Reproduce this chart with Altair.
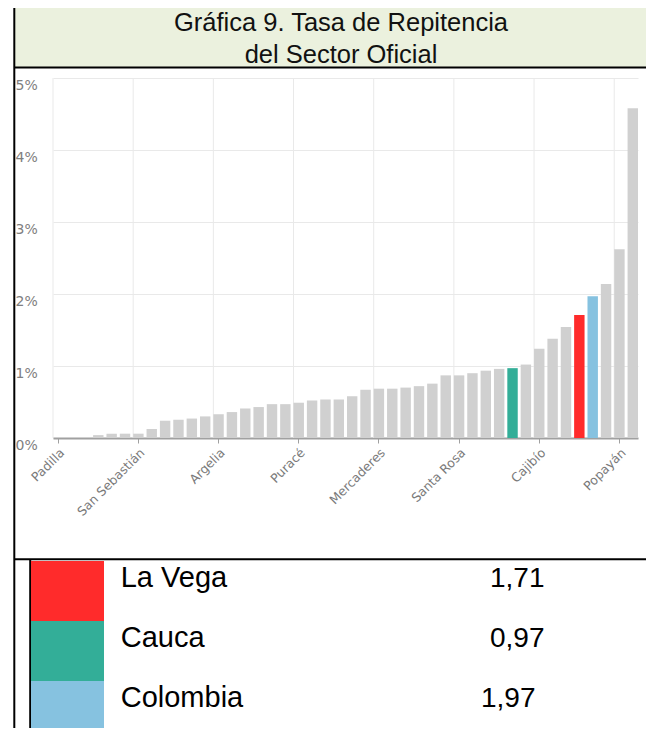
import altair as alt
import pandas as pd

# ---- data -----------------------------------------------------------
categories = [
    "Padilla", "Guachené", "Villa Rica", "Puerto Tejada", "Caloto", "Florencia",
    "San Sebastián", "Sucre", "Almaguer", "Balboa", "Bolívar", "Buenos Aires",
    "Argelia", "Caldono", "Corinto", "El Tambo", "Guapí", "Inzá",
    "Puracé", "Jambaló", "La Sierra", "Miranda", "Morales", "Páez",
    "Mercaderes", "Patía", "Piamonte", "Piendamó", "Rosas", "Santander de Quilichao",
    "Santa Rosa", "Silvia", "Sotará", "Suárez", "Cauca", "Timbío",
    "Cajibío", "Toribío", "Totoró", "La Vega", "Colombia", "López de Micay",
    "Popayán", "Timbiquí",
]
values = [
    0.005, 0.005, 0.01, 0.04, 0.06, 0.06,
    0.06, 0.125, 0.24, 0.255, 0.27, 0.30,
    0.33, 0.36, 0.41, 0.43, 0.47, 0.47,
    0.49, 0.52, 0.535, 0.535, 0.58, 0.67,
    0.685, 0.685, 0.70, 0.72, 0.755, 0.87,
    0.87, 0.90, 0.935, 0.96, 0.97, 1.02,
    1.24, 1.38, 1.54, 1.71, 1.97, 2.14,
    2.62, 4.58,
]
highlight = ["La Vega", "Cauca", "Colombia"]
tick_labels = ["Padilla", "San Sebastián", "Argelia", "Puracé", "Mercaderes",
               "Santa Rosa", "Cajibío", "Popayán"]
y_ticks = [0, 1, 2, 3, 4, 5]

title_lines = ["Gráfica 9. Tasa de Repitencia", "del Sector Oficial"]
legend_names = ["La Vega", "Cauca", "Colombia"]
legend_values = ["1,71", "0,97", "1,97"]

kind_domain = ["otro", "La Vega", "Cauca", "Colombia"]
kind_colors = ["#d0d0d0", "#ff2b2b", "#33ae98", "#86c2e0"]

bars_df = pd.DataFrame({
    "cat": categories,
    "value": values,
    "kind": [c if c in highlight else "otro" for c in categories],
})
grid_df = pd.DataFrame({"cat": tick_labels})
legend_df = pd.DataFrame({"kind": legend_names, "val": legend_values})

color_scale = alt.Scale(domain=kind_domain, range=kind_colors)
x_scale = alt.Scale(domain=categories, paddingInner=0.22, paddingOuter=0)
FONT = "Liberation Sans"
AXFONT = "DejaVu Sans"
GRID = "#e9e9e9"

x_axis = alt.Axis(values=tick_labels, labelAngle=315, grid=False,
                  domainColor="#a0a0a0", domainWidth=2,
                  tickColor="#a0a0a0", tickSize=5, labelPadding=3,
                  labelFont=AXFONT, labelFontSize=12.5, labelColor="#7a7a7a")

# ---- bar chart ------------------------------------------------------
vgrid = alt.Chart(grid_df).mark_rule(color=GRID, strokeWidth=1).encode(
    x=alt.X("cat:N", sort=None, bandPosition=0, title=None, scale=x_scale, axis=x_axis))

bars = alt.Chart(bars_df).mark_bar().encode(
    x=alt.X("cat:N", sort=None, title=None, scale=x_scale, axis=x_axis),
    y=alt.Y("value:Q", title=None,
            scale=alt.Scale(domain=[0, 5], nice=False),
            axis=alt.Axis(values=y_ticks, labelExpr="datum.value + '%'",
                          domain=False, ticks=False, tickSize=0, grid=True,
                          gridColor=GRID, labelAlign="left", labelBaseline="top",
                          labelPadding=38, labelFont=AXFONT, labelFontSize=14,
                          labelColor="#808080")),
    color=alt.Color("kind:N", scale=color_scale, legend=None),
)

one = alt.Data(values=[{"k": 1}])

# ---- decorative table frame -----------------------------------------
title_box = alt.Chart(one).mark_rect(fill="#ebf1de").encode(
    x=alt.value(-38.7), x2=alt.value(660), y=alt.value(-72.5), y2=alt.value(-10.5))
title_top = alt.Chart(one).mark_rule(color="black", strokeWidth=2).encode(
    x=alt.value(-38.7), x2=alt.value(660), y=alt.value(-72.5))
title_bottom = alt.Chart(one).mark_rule(color="black", strokeWidth=2).encode(
    x=alt.value(-38.7), x2=alt.value(660), y=alt.value(-10.5))

title_text = alt.Chart(one).mark_text(
    font=FONT, fontSize=25.5, lineBreak="\n", lineHeight=32, baseline="middle",
    align="center", color="#111111").encode(
    x=alt.value(288), y=alt.value(-55.5), text=alt.value("\n".join(title_lines)))

left_border = alt.Chart(one).mark_rule(color="black", strokeWidth=2).encode(
    x=alt.value(-38.7), y=alt.value(-72.5), y2=alt.value(670))
separator = alt.Chart(one).mark_rule(color="black", strokeWidth=2).encode(
    x=alt.value(-38.7), x2=alt.value(660), y=alt.value(481.3))
inner_border = alt.Chart(one).mark_rule(color="black", strokeWidth=2).encode(
    x=alt.value(-22.8), y=alt.value(481.3), y2=alt.value(670))

# ---- legend table -----------------------------------------------------
row_y = alt.Y("kind:N", sort=None, axis=None, title=None,
              scale=alt.Scale(domain=legend_names, range=[483, 663],
                              paddingInner=0, paddingOuter=0))

swatches = alt.Chart(legend_df).mark_rect().encode(
    x=alt.value(-22), x2=alt.value(51), y=row_y,
    color=alt.Color("kind:N", scale=color_scale, legend=None))

names = alt.Chart(legend_df).mark_text(
    font=FONT, fontSize=29, align="left", baseline="alphabetic", dy=-4,
    color="black").encode(x=alt.value(67.7), y=row_y, text="kind:N")

vals_a = alt.Chart(legend_df).transform_filter(alt.datum.kind != "Colombia").mark_text(
    font=FONT, fontSize=28, align="left", baseline="alphabetic", dy=-4,
    color="black").encode(x=alt.value(437), y=row_y, text="val:N")
vals_b = alt.Chart(legend_df).transform_filter(alt.datum.kind == "Colombia").mark_text(
    font=FONT, fontSize=28, align="left", baseline="alphabetic", dy=-4,
    color="black").encode(x=alt.value(428), y=row_y, text="val:N")

chart = alt.layer(
    title_box, title_top, title_bottom, title_text, vgrid, bars,
    left_border, separator, inner_border, swatches, names, vals_a, vals_b,
).resolve_scale(y="independent").properties(
    width=585, height=360,
    autosize=alt.AutoSizeParams(type="none"),
    padding={"left": 45, "top": 70, "right": 8, "bottom": 290},
    background="white",
).configure_view(strokeWidth=0)

chart.save("out.html", embed_options={"renderer": "svg", "actions": False})
